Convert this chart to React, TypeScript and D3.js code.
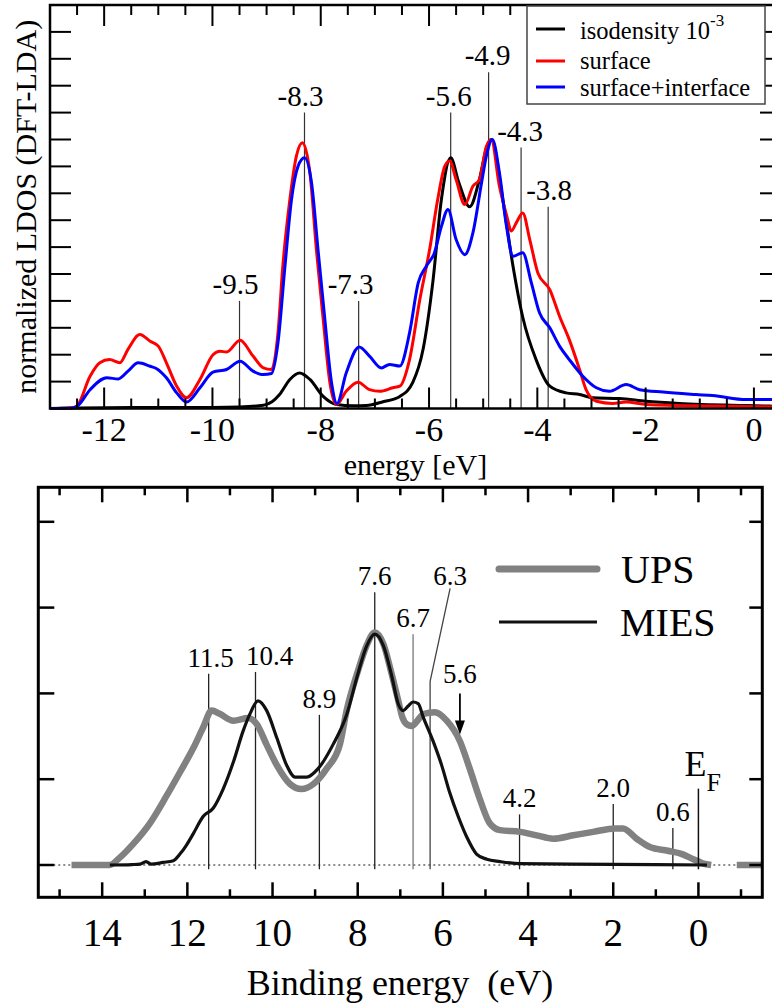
import React from 'react';
import * as d3 from 'd3';

const FONT = '"Liberation Serif", "DejaVu Serif", serif';
const txt = { fontFamily: FONT };

// ---------- Upper panel: normalized LDOS (DFT-LDA) vs energy [eV] ----------
const isodensity: [number, number][] = [
  [-13.0, 0.0], [-12.5, 0.002], [-11.5, 0.004], [-10.5, 0.004], [-9.5, 0.006],
  [-9.06, 0.012], [-8.9, 0.025], [-8.76, 0.052], [-8.57, 0.108], [-8.39, 0.132],
  [-8.2, 0.108], [-7.96, 0.046], [-7.71, 0.015], [-7.4, 0.01], [-7.16, 0.011],
  [-6.85, 0.025], [-6.54, 0.045], [-6.3, 0.097], [-6.11, 0.22], [-5.93, 0.47],
  [-5.77, 0.78], [-5.6, 0.932], [-5.45, 0.84], [-5.25, 0.75], [-5.07, 0.851],
  [-4.93, 0.975], [-4.85, 1.0], [-4.64, 0.78], [-4.45, 0.53], [-4.27, 0.34],
  [-4.02, 0.18], [-3.77, 0.083], [-3.47, 0.058], [-3.22, 0.052], [-2.98, 0.04],
  [-2.48, 0.037], [-1.99, 0.027], [-1.38, 0.019], [-0.14, 0.011], [0.5, 0.008],
];

const surface: [number, number][] = [
  [-13.0, 0.0], [-12.6, 0.002], [-12.5, 0.01], [-12.26, 0.12], [-12.08, 0.17],
  [-11.9, 0.182], [-11.71, 0.17], [-11.56, 0.22], [-11.34, 0.275], [-11.15, 0.25],
  [-11.0, 0.232], [-10.85, 0.17], [-10.66, 0.083], [-10.48, 0.04], [-10.23, 0.108],
  [-9.99, 0.2], [-9.86, 0.213], [-9.74, 0.21], [-9.49, 0.254], [-9.25, 0.195],
  [-9.06, 0.151], [-8.91, 0.145], [-8.79, 0.28], [-8.7, 0.53], [-8.57, 0.777],
  [-8.45, 0.938], [-8.34, 0.988], [-8.2, 0.876], [-8.08, 0.59], [-7.96, 0.343],
  [-7.83, 0.095], [-7.71, 0.015], [-7.53, 0.064], [-7.31, 0.098], [-7.1, 0.07],
  [-6.91, 0.064], [-6.67, 0.077], [-6.54, 0.083], [-6.36, 0.182], [-6.17, 0.405],
  [-5.99, 0.59], [-5.84, 0.777], [-5.71, 0.9], [-5.62, 0.92], [-5.5, 0.851],
  [-5.34, 0.758], [-5.19, 0.826], [-5.07, 0.851], [-4.94, 0.975], [-4.85, 1.0],
  [-4.7, 0.826], [-4.57, 0.72], [-4.48, 0.66], [-4.39, 0.69], [-4.27, 0.727],
  [-4.14, 0.628], [-3.99, 0.504], [-3.77, 0.442], [-3.59, 0.343], [-3.41, 0.256],
  [-3.22, 0.145], [-3.1, 0.07], [-2.91, 0.027], [-2.61, 0.019], [-2.36, 0.024],
  [-1.99, 0.015], [-0.76, 0.009], [0.5, 0.006],
];

const surfaceInterface: [number, number][] = [
  [-13.0, 0.0], [-12.6, 0.002], [-12.5, 0.008], [-12.26, 0.07], [-11.95, 0.114],
  [-11.74, 0.11], [-11.56, 0.139], [-11.37, 0.17], [-11.15, 0.157], [-11.03, 0.148],
  [-10.85, 0.114], [-10.66, 0.058], [-10.48, 0.024], [-10.23, 0.077], [-9.99, 0.135],
  [-9.74, 0.145], [-9.49, 0.176], [-9.25, 0.139], [-9.06, 0.126], [-8.91, 0.13],
  [-8.79, 0.244], [-8.66, 0.53], [-8.54, 0.777], [-8.42, 0.9], [-8.3, 0.932],
  [-8.17, 0.839], [-8.05, 0.59], [-7.93, 0.343], [-7.8, 0.095], [-7.7, 0.019],
  [-7.53, 0.132], [-7.29, 0.229], [-7.1, 0.195], [-6.88, 0.151], [-6.73, 0.164],
  [-6.54, 0.158], [-6.36, 0.281], [-6.2, 0.467], [-6.05, 0.529], [-5.9, 0.579],
  [-5.77, 0.678], [-5.65, 0.74], [-5.5, 0.628], [-5.34, 0.572], [-5.19, 0.653],
  [-5.03, 0.839], [-4.94, 0.94], [-4.83, 1.0], [-4.7, 0.876], [-4.57, 0.678],
  [-4.45, 0.566], [-4.27, 0.579], [-4.11, 0.467], [-3.96, 0.356], [-3.77, 0.3],
  [-3.59, 0.232], [-3.41, 0.182], [-3.16, 0.12], [-2.91, 0.077], [-2.67, 0.064],
  [-2.36, 0.089], [-2.11, 0.07], [-1.68, 0.061], [-1.07, 0.052], [-0.76, 0.048],
  [-0.14, 0.033], [0.5, 0.033],
];

const ldosSeries = [
  { name: 'isodensity', data: isodensity, color: '#000000' },
  { name: 'surface', data: surface, color: '#ff0000' },
  { name: 'surface+interface', data: surfaceInterface, color: '#0000ff' },
];

// marked peak energies and the height (LDOS units) where each marker line starts
const ldosPeaks = [
  { e: -9.5, top: 0.4, dx: -4 },
  { e: -8.3, top: 1.1, dx: -4 },
  { e: -7.3, top: 0.4, dx: -8 },
  { e: -5.6, top: 1.1, dx: -2 },
  { e: -4.9, top: 1.25, dx: -1 },
  { e: -4.3, top: 0.97, dx: -1 },
  { e: -3.8, top: 0.75, dx: 1 },
];

const ldosTickLabels = [-12, -10, -8, -6, -4, -2, 0];

// ---------- Lower panel: UPS / MIES spectra vs binding energy (eV) ----------
const ups: ([number, number] | null)[] = [
  [14.72, 0], [13.82, 0], [13.6, 0.08], [13.27, 0.246], [12.88, 0.486],
  [12.49, 0.805], [12.17, 1.084], [11.86, 1.363], [11.63, 1.602], [11.43, 1.8],
  [11.24, 1.762], [10.92, 1.682], [10.57, 1.714], [10.37, 1.642], [10.14, 1.403],
  [9.9, 1.164], [9.59, 0.944], [9.32, 0.885], [9.04, 0.944], [8.73, 1.123],
  [8.42, 1.403], [8.26, 1.8], [7.99, 2.27], [7.79, 2.56], [7.6, 2.71],
  [7.4, 2.58], [7.2, 2.22], [7.05, 1.92], [6.95, 1.72], [6.85, 1.64],
  [6.73, 1.62], [6.6, 1.68], [6.46, 1.76], [6.19, 1.78], [5.91, 1.682],
  [5.6, 1.443], [5.37, 1.123], [5.13, 0.765], [4.9, 0.486], [4.66, 0.406],
  [4.19, 0.386], [3.8, 0.346], [3.41, 0.306], [2.94, 0.346], [2.47, 0.386],
  [1.96, 0.426], [1.77, 0.426], [1.45, 0.306], [1.14, 0.21], [0.72, 0.166],
  [0.4, 0.13], [0.12, 0.067], [-0.1, 0.02], [-0.3, 0],
  null,
  [-0.9, 0], [-1.5, 0],
];

const mies: [number, number][] = [
  [13.82, 0], [13.3, 0.005], [13.11, 0.01], [12.97, 0.04], [12.85, 0.01],
  [12.57, 0.03], [12.33, 0.05], [12.17, 0.13], [12.02, 0.233], [11.86, 0.366],
  [11.63, 0.565], [11.39, 0.665], [11.16, 0.885], [10.92, 1.2], [10.69, 1.563],
  [10.53, 1.762], [10.34, 1.913], [10.14, 1.802], [9.9, 1.483], [9.67, 1.164],
  [9.47, 1.024], [9.2, 1.024], [8.93, 1.123], [8.58, 1.403], [8.26, 1.75],
  [8.0, 2.22], [7.8, 2.54], [7.6, 2.69], [7.4, 2.56], [7.2, 2.2],
  [7.05, 1.88], [6.93, 1.8], [6.82, 1.85], [6.7, 1.9], [6.58, 1.88],
  [6.46, 1.72], [6.23, 1.443], [6.03, 1.164], [5.84, 0.844], [5.64, 0.565],
  [5.44, 0.327], [5.21, 0.128], [4.97, 0.067], [4.66, 0.04], [4.19, 0.015],
  [3.0, 0.01], [1.0, 0.005], [-0.2, 0],
];

// marked binding energies, label text and the height where each marker starts
const bindingPeaks = [
  { e: 11.5, top: 2.23, label: '11.5', dx: 2 },
  { e: 10.4, top: 2.25, label: '10.4', dx: 14 },
  { e: 8.9, top: 1.75, label: '8.9', dx: 0 },
  { e: 7.6, top: 3.18, label: '7.6', dx: 0 },
  { e: 6.7, top: 2.69, label: '6.7', dx: 0 },
  { e: 4.2, top: 0.59, label: '4.2', dx: 0 },
  { e: 2.0, top: 0.71, label: '2.0', dx: 0 },
  { e: 0.6, top: 0.43, label: '0.6', dx: 0 },
];
const leaderPeak = { e: 6.3, elbow: 2.14, top: 3.225, label: '6.3' };
const arrowPeak = { e: 5.6, top: 2.0, tip: 1.52, label: '5.6' };
const fermiLevel = { e: 0, top: 0.89 };

const bindingTickLabels = [14, 12, 10, 8, 6, 4, 2, 0];

export default function App() {
  // ----- upper panel scales -----
  const T = { left: 50, right: 781, top: 5, bottom: 408.5 };
  const xT = d3.scaleLinear().domain([-13, 0.5]).range([T.left, T.right]);
  const yT = d3.scaleLinear().domain([0, 1.5]).range([T.bottom, T.top]);
  const lineT = d3
    .line<[number, number]>()
    .x((d) => xT(d[0]))
    .y((d) => yT(d[1]))
    .curve(d3.curveMonotoneX);

  const xTicksT = d3.range(-12.5, 0.51, 0.5);
  const yTicksT = d3.range(1, 15).map((i) => i / 10);
  const isMajorT = (v: number) => Math.abs(v / 2 - Math.round(v / 2)) < 1e-6;

  // ----- lower panel scales -----
  const B = { left: 38.3, right: 762.3, top: 487.3, bottom: 897.3 };
  const xB = d3.scaleLinear().domain([15.5, -1.5]).range([B.left, B.right]);
  const yB = d3.scaleLinear().domain([0, 4.4]).range([865, 865 - 4.4 * 85.8]);
  const lineB = d3
    .line<[number, number] | null>()
    .defined((d) => d !== null)
    .x((d) => xB((d as [number, number])[0]))
    .y((d) => yB((d as [number, number])[1]))
    .curve(d3.curveMonotoneX);

  const xTicksB = d3.range(15, -1.01, -1);
  const yTicksB = [0, 1, 2, 3, 4];
  const isMajorB = (v: number) => Math.abs(v % 2) < 1e-6;
  const markerBottom = yB(-0.05);

  return (
    <svg
      width={772}
      height={1008}
      style={{ position: 'absolute', left: 0, top: 0, background: '#fff', fontFamily: FONT }}
    >
      <rect x={0} y={0} width={772} height={1008} fill="#fff" />

      {/* ================= upper panel ================= */}
      <g>
        {ldosPeaks.map((p) => (
          <g key={'lp' + p.e}>
            <line
              x1={xT(p.e)}
              x2={xT(p.e)}
              y1={yT(p.top)}
              y2={T.bottom}
              stroke="#333"
              strokeWidth={1.2}
            />
            <text
              x={xT(p.e) + p.dx}
              y={yT(p.top) - 7}
              fontSize={29}
              textAnchor="middle"
              fill="#000"
              style={txt}
            >
              {p.e.toFixed(1)}
            </text>
          </g>
        ))}

        {ldosSeries.map((s) => (
          <path
            key={s.name}
            d={lineT(s.data) || ''}
            fill="none"
            stroke={s.color}
            strokeWidth={3}
            strokeLinejoin="round"
          />
        ))}

        {/* ticks */}
        {xTicksT.map((v) => {
          const len = isMajorT(v) ? 21 : 10;
          return (
            <g key={'xt' + v}>
              <line x1={xT(v)} x2={xT(v)} y1={T.bottom} y2={T.bottom - len} stroke="#000" strokeWidth={2} />
              <line x1={xT(v)} x2={xT(v)} y1={T.top} y2={T.top + len} stroke="#000" strokeWidth={2} />
            </g>
          );
        })}
        {yTicksT.map((v) => (
          <g key={'yt' + v}>
            <line x1={T.left} x2={T.left + 21} y1={yT(v)} y2={yT(v)} stroke="#000" strokeWidth={2} />
            <line x1={T.right} x2={T.right - 21} y1={yT(v)} y2={yT(v)} stroke="#000" strokeWidth={2} />
          </g>
        ))}
        <rect
          x={T.left}
          y={T.top}
          width={T.right - T.left}
          height={T.bottom - T.top}
          fill="none"
          stroke="#000"
          strokeWidth={2.5}
        />

        {ldosTickLabels.map((v) => (
          <text key={'xl' + v} x={xT(v)} y={441} fontSize={34} textAnchor="middle" style={txt}>
            {v === 0 ? '0' : '-' + Math.abs(v)}
          </text>
        ))}
        <text x={(T.left + T.right) / 2} y={475} fontSize={30} textAnchor="middle" style={txt}>
          energy [eV]
        </text>
        <text
          transform={`translate(36,${(T.top + T.bottom) / 2}) rotate(-90)`}
          fontSize={30}
          textAnchor="middle"
          style={txt}
        >
          normalized LDOS (DFT-LDA)
        </text>

        {/* legend */}
        <rect x={527} y={6} width={238} height={98} fill="#fff" stroke="#444" strokeWidth={1.5} />
        {ldosSeries.map((s, i) => {
          const ly = [29, 61, 87][i];
          const ty = [39, 68.5, 96][i];
          return (
            <g key={'lg' + s.name}>
              <line x1={536} x2={565} y1={ly} y2={ly} stroke={s.color} strokeWidth={3} />
              <text x={580} y={ty} fontSize={24.5} style={txt}>
                {i === 0 ? (
                  <>
                    isodensity 10
                    <tspan fontSize={17} dy={-13}>
                      -3
                    </tspan>
                  </>
                ) : (
                  s.name
                )}
              </text>
            </g>
          );
        })}
      </g>

      {/* ================= lower panel ================= */}
      <g>
        {/* zero-intensity reference */}
        <line
          x1={B.left}
          x2={B.right}
          y1={yB(0)}
          y2={yB(0)}
          stroke="#666"
          strokeWidth={1.5}
          strokeDasharray="2 3"
        />

        {bindingPeaks.map((p) => (
          <g key={'bp' + p.e}>
            <line
              x1={xB(p.e)}
              x2={xB(p.e)}
              y1={yB(p.top)}
              y2={markerBottom}
              stroke={p.e === 6.7 ? '#777' : '#222'}
              strokeWidth={1.3}
            />
            <text x={xB(p.e) + p.dx} y={yB(p.top) - 7} fontSize={27} textAnchor="middle" style={txt}>
              {p.label}
            </text>
          </g>
        ))}

        {/* 6.3 with slanted leader */}
        <path
          d={`M${xB(leaderPeak.e) + 20},${yB(leaderPeak.top)} L${xB(leaderPeak.e)},${yB(
            leaderPeak.elbow
          )} L${xB(leaderPeak.e)},${markerBottom}`}
          fill="none"
          stroke="#444"
          strokeWidth={1.3}
        />
        <text
          x={xB(leaderPeak.e) + 20}
          y={yB(leaderPeak.top) - 3}
          fontSize={27}
          textAnchor="middle"
          style={txt}
        >
          {leaderPeak.label}
        </text>

        <path
          d={lineB(ups) || ''}
          fill="none"
          stroke="#818181"
          strokeWidth={6.5}
          strokeLinejoin="round"
        />
        <path
          d={lineB(mies) || ''}
          fill="none"
          stroke="#111"
          strokeWidth={3.2}
          strokeLinejoin="round"
        />

        {/* 5.6 arrow */}
        <line
          x1={xB(arrowPeak.e)}
          x2={xB(arrowPeak.e)}
          y1={yB(arrowPeak.top)}
          y2={yB(arrowPeak.tip) - 12}
          stroke="#000"
          strokeWidth={1.8}
        />
        <path
          d={`M${xB(arrowPeak.e) - 5},${yB(arrowPeak.tip) - 14} L${xB(arrowPeak.e) + 5},${
            yB(arrowPeak.tip) - 14
          } L${xB(arrowPeak.e)},${yB(arrowPeak.tip)} Z`}
          fill="#000"
        />
        <text
          x={xB(arrowPeak.e)}
          y={yB(arrowPeak.top) - 10}
          fontSize={27}
          textAnchor="middle"
          style={txt}
        >
          {arrowPeak.label}
        </text>

        {/* Fermi level */}
        <line
          x1={xB(fermiLevel.e)}
          x2={xB(fermiLevel.e)}
          y1={yB(fermiLevel.top)}
          y2={markerBottom}
          stroke="#111"
          strokeWidth={1.5}
        />
        <text x={xB(fermiLevel.e) - 14} y={yB(fermiLevel.top) - 13} fontSize={36} style={txt}>
          E
          <tspan fontSize={26} dy={15}>
            F
          </tspan>
        </text>

        {/* ticks */}
        {xTicksB.map((v) => {
          const len = isMajorB(v) ? 15 : 8;
          return (
            <g key={'bx' + v}>
              <line x1={xB(v)} x2={xB(v)} y1={B.bottom} y2={B.bottom - len} stroke="#000" strokeWidth={2.5} />
              <line x1={xB(v)} x2={xB(v)} y1={B.top} y2={B.top + len} stroke="#000" strokeWidth={2.5} />
            </g>
          );
        })}
        {yTicksB.map((v) => (
          <g key={'by' + v}>
            <line x1={B.left} x2={B.left + 16} y1={yB(v)} y2={yB(v)} stroke="#000" strokeWidth={2.5} />
            <line x1={B.right} x2={B.right - 13} y1={yB(v)} y2={yB(v)} stroke="#000" strokeWidth={2.5} />
          </g>
        ))}
        <rect
          x={B.left}
          y={B.top}
          width={B.right - B.left}
          height={B.bottom - B.top}
          fill="none"
          stroke="#000"
          strokeWidth={3}
        />

        {bindingTickLabels.map((v) => (
          <text key={'bl' + v} x={xB(v)} y={946} fontSize={39} textAnchor="middle" style={txt}>
            {v}
          </text>
        ))}
        <text
          x={400}
          y={995}
          fontSize={36}
          textAnchor="middle"
          style={{ ...txt, whiteSpace: 'pre' }}
        >
          {'Binding energy  (eV)'}
        </text>

        {/* legend */}
        <line x1={499} x2={597} y1={569} y2={569} stroke="#818181" strokeWidth={7} strokeLinecap="round" />
        <line x1={499} x2={597} y1={622} y2={622} stroke="#111" strokeWidth={3} />
        <text x={621} y={583} fontSize={40} style={txt}>
          UPS
        </text>
        <text x={620} y={636} fontSize={40} style={txt}>
          MIES
        </text>
      </g>
    </svg>
  );
}
